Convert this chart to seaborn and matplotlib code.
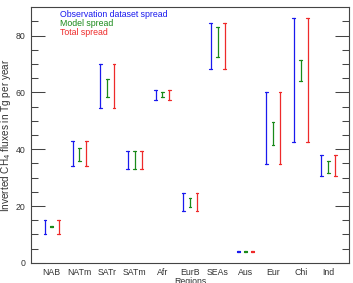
import matplotlib
matplotlib.use("Agg")
import matplotlib.pyplot as plt
import numpy as np
import pandas as pd
import seaborn as sns

regions = ["NAB", "NATm", "SATr", "SATm", "Afr", "EurB", "SEAs", "Aus", "Eur", "Chi", "Ind"]
obs_low = [10.2, 34.2, 54.6, 33.2, 57.4, 18.3, 68.2, 3.9, 34.9, 42.7, 30.6]
obs_high = [15.1, 43.0, 70.0, 39.2, 61.0, 24.5, 84.4, 4.1, 60.0, 86.2, 37.8]
model_low = [12.6, 36.0, 58.5, 33.2, 58.3, 19.5, 72.4, 3.9, 41.5, 64.0, 31.6]
model_high = [13.0, 40.5, 64.8, 39.2, 60.1, 23.0, 83.0, 4.1, 49.5, 71.5, 36.0]
total_low = [10.2, 34.2, 54.6, 33.2, 57.4, 18.3, 68.2, 3.9, 34.9, 42.7, 30.4]
total_high = [15.1, 43.0, 70.0, 39.2, 61.0, 24.5, 84.4, 4.1, 60.0, 86.2, 38.0]
spreads = ["Observation dataset spread", "Model spread", "Total spread"]
colors = ["#1a1aee", "#1a8a1a", "#ee2a2a"]

rows = []
for name, lo, hi in zip(spreads, [obs_low, model_low, total_low], [obs_high, model_high, total_high]):
    for r, a, b in zip(regions, lo, hi):
        rows.append((r, name, a))
        rows.append((r, name, b))
df = pd.DataFrame(rows, columns=["region", "spread", "flux"])

sns.set_style("ticks")
plt.rcParams["font.family"] = ["Liberation Sans", "DejaVu Sans"]
fig = plt.figure(figsize=(3.53, 2.83), dpi=100)
ax = fig.add_axes([0.088, 0.071, 0.901, 0.904])

sns.pointplot(data=df, x="region", y="flux", hue="spread", order=regions,
              hue_order=spreads, palette=colors,
              errorbar=lambda v: (v.min(), v.max()), dodge=0.5,
              linestyle="none", marker="", capsize=0.1,
              err_kws={"linewidth": 0.9}, legend=False, ax=ax)

gray = "#444444"
ax.set_xlim(-0.75, 10.75)
ax.set_ylim(0, 90)
ax.set_yticks([0, 20, 40, 60, 80])
ax.set_yticks(np.arange(0, 90, 5), minor=True)
ax.tick_params(axis="y", which="major", direction="in", length=10, width=0.75,
               right=True, labelsize=6.3, colors=gray, labelcolor="#333333", pad=4)
ax.tick_params(axis="y", which="minor", direction="in", length=5, width=0.75,
               right=True, colors=gray)
ax.tick_params(axis="x", length=0, labelsize=6.3, labelcolor="#333333", pad=4)
for s in ax.spines.values():
    s.set_visible(True)
    s.set_color(gray)
    s.set_linewidth(0.8)

ax.set_xlabel("Regions", fontsize=6.3, color="#333333", labelpad=0)
ax.set_ylabel("Inverted CH$_4$ fluxes in Tg per year", fontsize=7.2, color="#333333")
ax.yaxis.set_label_coords(-0.058, 0.5)

for i, (name, c) in enumerate(zip(spreads, colors)):
    ax.text(0.092, 0.99 - i * 0.036, name, color=c, fontsize=6.3,
            transform=ax.transAxes, va="top", ha="left")

fig.savefig("out.png", dpi=100)
